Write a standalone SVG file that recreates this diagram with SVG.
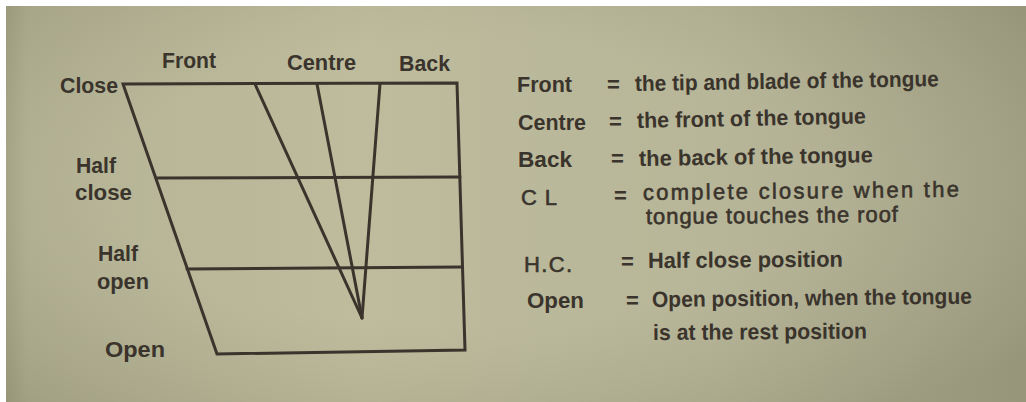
<svg xmlns="http://www.w3.org/2000/svg" width="1026" height="402" viewBox="0 0 1026 402">
  <defs>
    <linearGradient id="bg" x1="0" y1="0" x2="1" y2="0">
      <stop offset="0" stop-color="#a3a283"/>
      <stop offset="0.02" stop-color="#b0ae8e"/>
      <stop offset="0.35" stop-color="#bab897"/>
      <stop offset="0.7" stop-color="#b3b192"/>
      <stop offset="1" stop-color="#a4a385"/>
    </linearGradient>
    <radialGradient id="vign" cx="0.45" cy="0.45" r="0.7">
      <stop offset="0.5" stop-color="#ffffff" stop-opacity="0.06"/>
      <stop offset="1" stop-color="#000000" stop-opacity="0.08"/>
    </radialGradient>
  </defs>
  <style>
    .ln { stroke: #3a342c; stroke-width: 3; fill: none; stroke-linejoin: miter; stroke-linecap: round; }
    text { font-family: "Liberation Sans", Arial, Helvetica, sans-serif; fill: #3a342c; font-size: 22px; font-weight: bold; }
    .lt { font-weight: normal; font-size: 22px; stroke: #3a342c; stroke-width: 0.6; }
  </style>
  <rect x="0" y="0" width="1026" height="402" fill="#ffffff"/>
  <rect x="6" y="6" width="1020" height="396" fill="url(#bg)"/>
  <rect x="6" y="6" width="1020" height="396" fill="url(#vign)"/>

  <g id="chart">
    <polygon class="ln" points="123,84 457,83 465,350 217,354"/>
    <line class="ln" x1="156" y1="178" x2="460" y2="177"/>
    <line class="ln" x1="187" y1="269" x2="462" y2="267"/>
    <line class="ln" x1="255" y1="84" x2="362" y2="318"/>
    <line class="ln" x1="317" y1="84" x2="362" y2="318"/>
    <line class="ln" x1="380" y1="84" x2="362" y2="318"/>
  </g>

  <g id="chart-labels">
    <text x="60" y="93" textLength="58" lengthAdjust="spacingAndGlyphs">Close</text>
    <text x="162" y="68" textLength="54" lengthAdjust="spacingAndGlyphs">Front</text>
    <text x="287" y="70" textLength="69" lengthAdjust="spacingAndGlyphs">Centre</text>
    <text x="399" y="71" textLength="51" lengthAdjust="spacingAndGlyphs">Back</text>
    <text x="76" y="173" textLength="40" lengthAdjust="spacingAndGlyphs">Half</text>
    <text x="75" y="200" textLength="57" lengthAdjust="spacingAndGlyphs">close</text>
    <text x="98" y="261" textLength="40" lengthAdjust="spacingAndGlyphs">Half</text>
    <text x="97" y="289" textLength="52" lengthAdjust="spacingAndGlyphs">open</text>
    <text x="105" y="357" textLength="60" lengthAdjust="spacingAndGlyphs">Open</text>
  </g>

  <g id="legend-front">
    <text x="517" y="92" textLength="55" lengthAdjust="spacingAndGlyphs">Front</text>
    <text x="607" y="92">=</text>
    <text x="635" y="91" textLength="304" lengthAdjust="spacingAndGlyphs" transform="rotate(-0.9 635 91)">the tip and blade of the tongue</text>
  </g>
  <g id="legend-centre">
    <text x="518" y="130" textLength="68" lengthAdjust="spacingAndGlyphs">Centre</text>
    <text x="609" y="129">=</text>
    <text x="637" y="128" textLength="229" lengthAdjust="spacingAndGlyphs" transform="rotate(-1.1 637 128)">the front of the tongue</text>
  </g>
  <g id="legend-back">
    <text x="518" y="167" textLength="54" lengthAdjust="spacingAndGlyphs">Back</text>
    <text x="611" y="166">=</text>
    <text x="639" y="166" textLength="234" lengthAdjust="spacingAndGlyphs" transform="rotate(-0.9 639 166)">the back of the tongue</text>
  </g>
  <g id="legend-cl">
    <text x="521" y="205" class="lt" textLength="36" lengthAdjust="spacing">C L</text>
    <text x="614" y="203">=</text>
    <text x="643" y="200" class="lt" textLength="316" lengthAdjust="spacing" transform="rotate(-0.6 643 200)">complete closure when the</text>
    <text x="646" y="224" class="lt" textLength="252" lengthAdjust="spacing" transform="rotate(-0.5 646 224)">tongue touches the roof</text>
  </g>
  <g id="legend-hc">
    <text x="524" y="272" class="lt" textLength="48" lengthAdjust="spacing">H.C.</text>
    <text x="621" y="269">=</text>
    <text x="648" y="268" textLength="195" lengthAdjust="spacingAndGlyphs" transform="rotate(-0.4 648 268)">Half close position</text>
  </g>
  <g id="legend-open">
    <text x="527" y="308" textLength="57" lengthAdjust="spacingAndGlyphs">Open</text>
    <text x="626" y="308">=</text>
    <text x="652" y="307" textLength="320" lengthAdjust="spacingAndGlyphs" transform="rotate(-0.6 652 307)">Open position, when the tongue</text>
    <text x="653" y="340" textLength="214" lengthAdjust="spacingAndGlyphs" transform="rotate(-0.4 653 340)">is at the rest position</text>
  </g>
</svg>
